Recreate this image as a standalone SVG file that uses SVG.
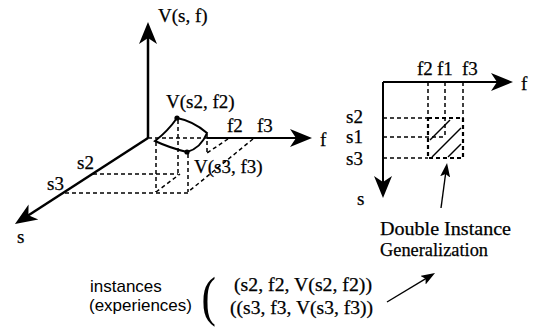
<svg xmlns="http://www.w3.org/2000/svg" width="537" height="329" viewBox="0 0 537 329">
<style>
.ax{stroke:#000;stroke-width:2.5;fill:none}
.ax2{stroke:#000;stroke-width:2;fill:none}
.dash{stroke:#000;stroke-width:1.5;stroke-dasharray:4 3;fill:none}
.dashb{stroke:#000;stroke-width:2.2;stroke-dasharray:4 3;fill:none}
.thin{stroke:#000;stroke-width:1.4;fill:none}
.patch{stroke:#000;stroke-width:2;fill:none}
.t{font-family:"Liberation Serif","Times New Roman",serif;font-size:19px;fill:#000;stroke:#000;stroke-width:0.25}
.ts{font-family:"Liberation Sans",Arial,sans-serif;font-size:17px;fill:#000}
.paren{font-family:"Liberation Serif","Times New Roman",serif;font-size:54px;fill:#000}
</style>
<defs>
<marker id="big" viewBox="0 0 22 20" refX="16" refY="10" markerWidth="22" markerHeight="20" markerUnits="userSpaceOnUse" orient="auto">
<path d="M0,1 L22,10 L0,19 L6,10 Z" fill="#000"/>
</marker>
<marker id="small" viewBox="0 0 14 10" refX="10" refY="5" markerWidth="14" markerHeight="10" markerUnits="userSpaceOnUse" orient="auto">
<path d="M0,0 L14,5 L0,10 L3,5 Z" fill="#000"/>
</marker>
</defs>

<g id="connectors">
<!-- 3D axes -->
<line class="ax" x1="148" y1="138" x2="148" y2="28" marker-end="url(#big)"/>
<line class="ax" x1="148" y1="138" x2="20" y2="220.7" marker-end="url(#big)"/>
<line class="dash" x1="148" y1="138" x2="207" y2="138"/>
<line class="ax2" x1="207" y1="138" x2="306" y2="138" marker-end="url(#big)"/>
<!-- 3D dashed grid -->
<line class="dash" x1="93" y1="174" x2="178" y2="174"/>
<line class="dash" x1="65" y1="193" x2="190" y2="193"/>
<line class="dash" x1="156" y1="142" x2="156" y2="192"/>
<line class="dash" x1="178" y1="120" x2="178" y2="174"/>
<line class="dash" x1="188" y1="154" x2="188" y2="192"/>
<line class="dash" x1="207" y1="134" x2="207" y2="153"/>
<line class="dash" x1="228" y1="139" x2="207" y2="153"/>
<line class="dash" x1="253" y1="139" x2="188" y2="192"/>
<line class="dash" x1="156" y1="192" x2="180" y2="174"/>
<!-- surface patch -->
<path class="patch" d="M177,118 Q193,121 207,133 Q201,148 187,152 Q170,148 155,141 Q168,131 177,118 Z"/>
<circle cx="177" cy="118" r="2.6" fill="#000"/>
<circle cx="187" cy="152" r="2.6" fill="#000"/>

<!-- 2D axes -->
<line class="ax2" x1="383" y1="82" x2="507" y2="82" marker-end="url(#big)"/>
<line class="ax2" x1="383" y1="82" x2="383" y2="192" marker-end="url(#big)"/>
<line class="dash" x1="428" y1="82" x2="428" y2="118"/>
<line class="dash" x1="445" y1="82" x2="445" y2="137"/>
<line class="dash" x1="463" y1="82" x2="463" y2="118"/>
<line class="dash" x1="383" y1="118" x2="428" y2="118"/>
<line class="dash" x1="383" y1="137" x2="445" y2="137"/>
<line class="dash" x1="383" y1="158" x2="428" y2="158"/>
<rect class="dashb" x="428" y="118" width="35" height="40"/>
<line class="thin" x1="430" y1="140" x2="450" y2="120"/>
<line class="thin" x1="432" y1="157" x2="461" y2="128"/>
<line class="thin" x1="448" y1="157" x2="461" y2="144"/>

<!-- annotation arrows -->
<line class="thin" x1="441" y1="208" x2="446.5" y2="167" stroke-width="2" marker-end="url(#small)"/>
<line class="thin" x1="387" y1="302" x2="431.6" y2="275.1" stroke-width="2" marker-end="url(#small)"/>
</g>

<g id="node-3d-labels">
<text class="t" x="158" y="22">V(s, f)</text>
<text class="t" x="166" y="108">V(s2, f2)</text>
<text class="t" x="194" y="173">V(s3, f3)</text>
<text class="t" x="227" y="132">f2</text>
<text class="t" x="257" y="132">f3</text>
<text class="t" x="320" y="146">f</text>
<text class="t" x="77" y="169">s2</text>
<text class="t" x="47" y="190">s3</text>
<text class="t" x="17" y="243">s</text>
</g>

<g id="node-2d-labels">
<text class="t" x="417" y="75">f2</text>
<text class="t" x="437" y="75">f1</text>
<text class="t" x="462" y="75">f3</text>
<text class="t" x="521" y="90">f</text>
<text class="t" x="363" y="123" text-anchor="end">s2</text>
<text class="t" x="363" y="143" text-anchor="end">s1</text>
<text class="t" x="363" y="165" text-anchor="end">s3</text>
<text class="t" x="357" y="205">s</text>
</g>

<g id="node-generalization">
<text class="t" x="380" y="235" textLength="131" lengthAdjust="spacingAndGlyphs">Double Instance</text>
<text class="t" x="380" y="256" textLength="108" lengthAdjust="spacingAndGlyphs">Generalization</text>
</g>

<g id="node-instances">
<text class="ts" x="90" y="292">instances</text>
<text class="ts" x="89" y="311">(experiences)</text>
<text class="paren" x="252" y="315" transform="scale(0.8,1)">(</text>
<text class="t" x="234" y="291" textLength="138" lengthAdjust="spacingAndGlyphs">(s2, f2, V(s2, f2))</text>
<text class="t" x="230" y="314" textLength="143" lengthAdjust="spacingAndGlyphs">((s3, f3, V(s3, f3))</text>
</g>
</svg>
